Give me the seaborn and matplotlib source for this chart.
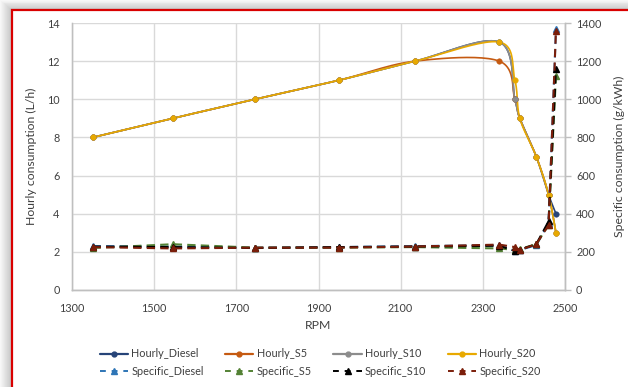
import numpy as np
import pandas as pd
import matplotlib.pyplot as plt
import seaborn as sns
from matplotlib.lines import Line2D
from matplotlib.patches import Rectangle

# RPM operating points (shared by all series)
rpm = [1350, 1545, 1745, 1950, 2135, 2340, 2378, 2390, 2430, 2460, 2478]

# Hourly consumption (L/h), left axis
hourly_diesel = [8, 9, 10, 11, 12, 13, 10, 9, 7, 5, 4]
hourly_s5 = [8, 9, 10, 11, 12, 12, 10, 9, 7, 5, 3]
hourly_s10 = [8, 9, 10, 11, 12, 13, 10, 9, 7, 5, 3]
hourly_s20 = [8, 9, 10, 11, 12, 13, 11, 9, 7, 5, 3]

# Specific consumption (g/kWh), right axis
spec_diesel = [230, 228, 222, 225, 230, 235, 205, 210, 235, 350, 1370]
spec_s5 = [220, 240, 222, 222, 225, 218, 210, 215, 240, 340, 1120]
spec_s10 = [228, 225, 220, 225, 228, 232, 205, 212, 240, 360, 1160]
spec_s20 = [225, 218, 222, 222, 228, 238, 225, 210, 240, 340, 1360]

fuels = ["Diesel", "S5", "S10", "S20"]
hourly = [hourly_diesel, hourly_s5, hourly_s10, hourly_s20]
specific = [spec_diesel, spec_s5, spec_s10, spec_s20]
hourly_colors = ["#264478", "#C55A11", "#8C8C8C", "#E8A900"]
spec_colors = ["#2E75B6", "#548235", "#000000", "#7B1E0A"]


def smooth(x, y, n=24):
    """Excel-like smoothed line: Catmull-Rom Bezier through the points."""
    pts = np.column_stack([x, y]).astype(float)
    p = np.vstack([pts[0], pts, pts[-1]])
    t = np.linspace(0, 1, n)[:, None]
    out = []
    for i in range(1, len(p) - 2):
        p0, p1, p2, p3 = p[i - 1], p[i], p[i + 1], p[i + 2]
        c1 = p1 + (p2 - p0) / 6
        c2 = p2 - (p3 - p1) / 6
        seg = ((1 - t) ** 3) * p1 + 3 * ((1 - t) ** 2) * t * c1 \
            + 3 * (1 - t) * t ** 2 * c2 + t ** 3 * p2
        out.append(seg if i == 1 else seg[1:])
    out = np.vstack(out)
    return out[:, 0], out[:, 1]


sns.set_theme(style="white")
plt.rcParams['font.family'] = ['Lato', 'DejaVu Sans']
plt.rcParams['text.color'] = '#404040'

fig = plt.figure(figsize=(6.28, 3.87), dpi=100)
fig.patch.set_facecolor('white')

# shadow + red frame
for k in range(12):
    g = 0.97 - 0.018 * k
    fig.patches.append(Rectangle((k / 628, -0.1), 1.2, 1.1 - k * 0.85 / 387,
                                 transform=fig.transFigure, fc=(g, g, g), ec='none', zorder=-10))
fig.patches.append(Rectangle((12 / 628, -0.1), 1.2, 1.1 - 10 / 387,
                             transform=fig.transFigure, fc='white', ec='#D90000', lw=1.6, zorder=-9))

ax = fig.add_axes([72 / 628, 1 - 290 / 387, (565 - 72) / 628, (290 - 23) / 387])
ax.set_facecolor('none')
ax2 = ax.twinx()

# hourly consumption: smoothed solid lines with circle markers
for name, vals, col in zip(fuels, hourly, hourly_colors):
    sx, sy = smooth(rpm, vals)
    df = pd.DataFrame({"RPM": sx, "val": sy})
    sns.lineplot(data=df, x="RPM", y="val", ax=ax, color=col, lw=1.2, sort=False, estimator=None)
    sns.scatterplot(x=rpm, y=vals, ax=ax, color=col, s=16, edgecolor=col, zorder=3)

# specific consumption: dashed lines with triangle markers
for name, vals, col in zip(fuels, specific, spec_colors):
    ax2.plot(rpm, vals, color=col, lw=1.5, ls=(0, (4, 2.5)), marker='^', ms=4.5,
             markeredgecolor=col, zorder=4)

ax.set_xlim(1300, 2500)
ax.set_ylim(0, 14)
ax2.set_ylim(0, 1400)
ax.set_xticks(range(1300, 2501, 200))
ax.set_yticks(range(0, 15, 2))
ax2.set_yticks(range(0, 1401, 200))

ax.grid(True, color='#D9D9D9', lw=1)
ax.set_axisbelow(True)
for s in ["top"]:
    ax.spines[s].set_visible(False)
    ax2.spines[s].set_visible(False)
for a in (ax, ax2):
    for s in ["left", "bottom", "right"]:
        a.spines[s].set_color('#BFBFBF')
        a.spines[s].set_linewidth(1)
ax.spines["left"].set_color('#D9D9D9')

ax.tick_params(axis='x', length=0, labelsize=7.8, colors='#404040', pad=9)
ax.tick_params(axis='y', length=0, labelsize=7.8, colors='#404040', pad=9)
ax2.tick_params(axis='y', length=4, width=1, color='#BFBFBF', labelsize=7.8, labelcolor='#404040', pad=4)

ax.set_xlabel("RPM", fontsize=8.8, color='#404040', labelpad=5)
ax.set_ylabel("Hourly consumption (L/h)", fontsize=8.8, color='#404040', labelpad=7)
ax2.set_ylabel("Specific consumption (g/kWh)", fontsize=8.8, color='#404040', labelpad=9)

# legend: row 1 hourly, row 2 specific
handles, labels = [], []
for name, hc, sc in zip(fuels, hourly_colors, spec_colors):
    handles.append(Line2D([], [], color=hc, lw=1.6, marker='o', ms=3.5))
    labels.append(f"Hourly_{name}")
    handles.append(Line2D([], [], color=sc, lw=1.4, ls=(0, (3, 3)), marker='^', ms=4))
    labels.append(f"Specific_{name}")
fig.legend(handles, labels, loc='center', bbox_to_anchor=(0.51, 0.063), ncol=4,
           frameon=False, fontsize=7.8, handlelength=2.6, handletextpad=0.3,
           columnspacing=2.0, labelspacing=0.6)

fig.savefig("out.png", dpi=100)
